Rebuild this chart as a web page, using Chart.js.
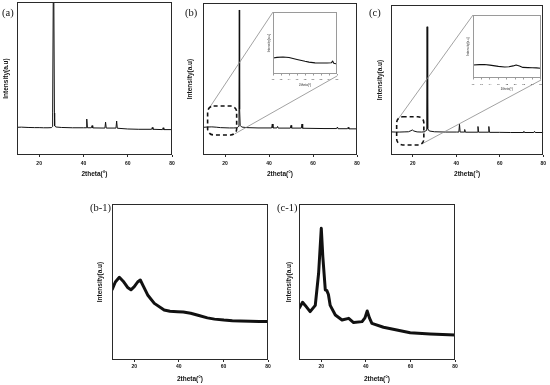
<!DOCTYPE html>
<html>
<head>
<meta charset="utf-8">
<script src="https://cdn.jsdelivr.net/npm/chart.js@4"></script>
<style>
  body { margin: 0; width: 550px; height: 385px; position: relative; background: #fff; overflow: hidden; }
  canvas { position: absolute; }
  .lbl { position: absolute; font-family: "Liberation Serif", "Times New Roman", serif; font-size: 10.5px; line-height: 11px; color: #111; }
</style>
</head>
<body>
<script>
// #region data
const xTitle = '2theta(°)';
const yTitle = 'Intensity(a.u)';
const xTicks = [20, 40, 60, 80];
const insetTicks = [10, 12, 14, 16, 18, 20, 22, 24, 26];

// (a)
const aX = [10, 12, 15, 18, 20, 22, 24, 25.6, 26.0, 26.1, 26.5, 26.9, 27.0, 27.6, 30, 35, 40, 41.2, 41.5, 41.8, 43.6, 43.9, 44.2, 49.7, 50, 50.3, 54.7, 55, 55.3, 60, 65, 70.8, 71.1, 71.4, 75.7, 76, 76.3, 80];
const aY = [18.1, 18.2, 18.0, 17.9, 17.9, 17.8, 17.8, 17.9, 18.6, 27.5, 140, 27.5, 19.0, 18.3, 18.0, 17.8, 17.8, 17.8, 23.5, 17.8, 17.8, 19.2, 17.7, 17.6, 21.5, 17.6, 17.6, 22.2, 17.5, 17.0, 16.8, 16.8, 18.0, 16.8, 16.6, 17.8, 16.6, 16.6];

// (b)
const bX = [10, 12, 14, 16, 18, 20, 22, 24, 25.6, 26.1, 26.35, 26.5, 26.65, 26.9, 27.6, 30, 35, 40, 41.2, 41.5, 41.8, 43.6, 43.9, 44.2, 49.7, 50, 50.3, 54.7, 55, 55.3, 60, 65, 70.8, 71.1, 71.4, 75.7, 76, 76.3, 80];
const bY = [18.2, 18.4, 18.5, 18.3, 18.0, 17.9, 17.8, 17.8, 17.9, 18.8, 30, 95.4, 30, 19.5, 18.4, 18.0, 17.8, 17.8, 17.8, 20.4, 17.8, 17.8, 18.8, 17.7, 17.7, 19.5, 17.7, 17.7, 20.4, 17.6, 17.5, 17.4, 17.4, 18.4, 17.3, 17.3, 18.2, 17.2, 17.2];

// (c)
const cX = [10, 12, 14, 16, 18, 19.2, 19.8, 20.5, 22, 24, 25.6, 26.1, 26.45, 26.6, 26.75, 27.0, 27.6, 30, 35, 40, 41.2, 41.5, 41.8, 43.6, 43.9, 44.2, 49.7, 50, 50.3, 54.7, 55, 55.3, 60, 65, 70.8, 71.1, 71.4, 75.7, 76, 76.3, 80];
const cY = [15.4, 15.3, 15.3, 15.4, 15.5, 16.2, 16.7, 16.0, 15.4, 15.3, 15.5, 16.5, 30, 85.5, 30, 17.5, 16.0, 15.5, 15.3, 15.3, 15.3, 20.5, 15.3, 15.3, 17.0, 15.2, 15.2, 19.0, 15.2, 15.2, 19.0, 15.1, 15.1, 15.0, 15.0, 15.8, 15.0, 15.0, 15.8, 15.0, 15.0];

// insets of (b) and (c)
const ibX = [10, 11, 12.5, 14, 16, 18, 19, 20.5, 22, 23.5, 24.6, 24.9, 25.2, 26];
const ibY = [25.8, 26.8, 27.4, 26.5, 23.5, 20.5, 19.2, 18.0, 17.7, 17.8, 18.2, 21, 17.2, 16];
const icX = [10, 11.5, 12.7, 14, 16, 17.5, 18.5, 19.5, 20.2, 21, 21.8, 23, 24, 25, 26];
const icY = [20.6, 21.3, 21.5, 20.5, 18.5, 17.5, 17.8, 19.2, 20.6, 19, 16.8, 16.5, 16.3, 16.0, 15.5];

// (b-1)
const b1X = [10, 11.5, 13.3, 15, 17, 18.5, 20, 21.5, 22.7, 24, 26, 29, 33.4, 36, 39.4, 42, 45.3, 49, 52.8, 56, 60.2, 64, 67.6, 72, 76, 80];
const b1Y = [44.9, 50, 53, 50.5, 46.5, 45, 47, 50, 51.3, 47.5, 41.7, 36.3, 32, 31.2, 31, 30.8, 30, 28.5, 27, 26.2, 25.6, 25.2, 25, 24.8, 24.7, 24.6];

// (c-1)
const c1X = [10, 11.6, 12.8, 15, 17.3, 18.8, 20, 20.7, 21.8, 22.5, 23.2, 24, 26.3, 29.3, 32.3, 34.5, 38.3, 39.6, 40.6, 41.6, 42.7, 47.9, 53.9, 59.9, 68.8, 80];
const c1Y = [33, 37, 35, 31, 35, 55.6, 84.4, 66, 45, 44.5, 42, 35, 28.8, 25.6, 26.7, 24, 24.6, 27, 31.4, 27, 23.5, 21, 19.2, 17.5, 16.7, 16];

const panelLabels = ['(a)', '(b)', '(c)', '(b-1)', '(c-1)'];
// #endregion data

const ink = '#111';
const sans = 'Arial, "Liberation Sans", sans-serif';

// box around the plot area
const framePlugin = {
    id: 'frame',
    afterDatasetsDraw(chart, args, o) {
        const { ctx, chartArea: a } = chart;
        ctx.save();
        ctx.strokeStyle = o.color;
        ctx.lineWidth = 1;
        ctx.strokeRect(Math.round(a.left) + 0.5, Math.round(a.top) + 0.5,
            Math.round(a.width) - 1, Math.round(a.height) - 1);
        ctx.restore();
    }
};

// dashed zoom region + lines to the inset
const zoomPlugin = {
    id: 'zoomBox',
    afterDraw(chart, args, o) {
        if (!o.region) return;
        const { ctx, scales: { x, y } } = chart;
        const l = x.getPixelForValue(o.region[0]), r = x.getPixelForValue(o.region[1]);
        const t = y.getPixelForValue(o.region[3]), b = y.getPixelForValue(o.region[2]);
        ctx.save();
        ctx.strokeStyle = '#8a8a8a';
        ctx.lineWidth = 0.8;
        ctx.beginPath();
        ctx.moveTo(l + 1, t + 3);
        ctx.lineTo(o.inset.l - o.origin.x, o.inset.t - o.origin.y);
        ctx.moveTo(r - 2, b - 1);
        ctx.lineTo(o.inset.r - o.origin.x, o.inset.b + 2 - o.origin.y);
        ctx.stroke();
        ctx.setLineDash([4, 3]);
        ctx.lineWidth = 1.6;
        ctx.strokeStyle = ink;
        ctx.beginPath();
        ctx.roundRect(l, t, r - l, b - t, 6);
        ctx.stroke();
        ctx.restore();
    }
};

function place(pos) {
    const cv = document.createElement('canvas');
    cv.width = pos.w;
    cv.height = pos.h;
    cv.style.left = pos.x + 'px';
    cv.style.top = pos.y + 'px';
    document.body.appendChild(cv);
    return cv;
}

function panel(p) {
    const half = s => s * 1.2 / 2;
    const cv = place(p.pos);
    const xh = p.pos.y + p.pos.h - p.box.b;
    const tc = p.titleColor || ink;
    return new Chart(cv, {
        type: 'line',
        data: {
            datasets: [{
                data: p.xs.map((x, i) => ({ x, y: p.ys[i] })),
                borderColor: ink,
                borderWidth: p.lw,
                borderJoinStyle: 'round',
                pointRadius: 0,
                tension: 0,
                clip: 0
            }]
        },
        options: {
            responsive: false,
            animation: false,
            events: [],
            layout: { padding: { top: p.box.t - p.pos.y, right: p.pos.x + p.pos.w - p.box.r, left: 0, bottom: 0 } },
            plugins: {
                legend: { display: false },
                tooltip: { enabled: false },
                frame: { color: p.frame },
                zoomBox: p.zoom || {}
            },
            scales: {
                x: {
                    type: 'linear',
                    min: p.xMin,
                    max: p.xMax,
                    afterFit: s => { s.height = xh; },
                    afterBuildTicks: s => { s.ticks = p.ticks.map(value => ({ value })); },
                    grid: { display: true, drawOnChartArea: false, drawTicks: true, tickLength: p.tickLen, color: p.frame, lineWidth: 1 },
                    border: { display: false },
                    ticks: {
                        autoSkip: false, maxRotation: 0, color: tc,
                        font: { family: sans, weight: 'bold', size: p.tickSize },
                        padding: p.tickY - p.box.b - p.tickLen - half(p.tickSize)
                    },
                    title: {
                        display: true, text: xTitle, color: tc,
                        font: { family: sans, weight: 'bold', size: p.titleSize },
                        padding: { top: 0, bottom: p.pos.y + p.pos.h - p.xTitleY - half(p.titleSize) }
                    }
                },
                y: {
                    min: 0,
                    max: 100,
                    afterFit: s => { s.width = p.box.l - p.pos.x; },
                    ticks: { display: false },
                    grid: { display: false },
                    border: { display: false },
                    title: {
                        display: true, text: yTitle, color: tc,
                        font: { family: sans, weight: 'bold', size: p.titleSize },
                        padding: { top: p.yTitleX - p.pos.x - half(p.titleSize), bottom: 0 }
                    }
                }
            }
        },
        plugins: [framePlugin, zoomPlugin]
    });
}

const main = { xMin: 10, xMax: 80, ticks: xTicks, lw: 1, frame: '#2a2a2a', tickLen: 2, tickSize: 5, titleSize: 6.5 };
const small = { xMin: 10, xMax: 26, ticks: insetTicks, lw: 1.1, frame: '#9a9a9a', tickLen: 1.5, tickSize: 2.5, titleSize: 3, titleColor: '#666' };

const insetB = { l: 273, t: 12, r: 337, b: 74 };
const insetC = { l: 473, t: 15, r: 541, b: 78 };

panel({ ...main, xs: aX, ys: aY, pos: { x: 0, y: 0, w: 185, h: 180 }, box: { l: 17, t: 2, r: 172, b: 155 }, yTitleX: 6.5, xTitleY: 174, tickY: 164 });
panel({ ...main, xs: bX, ys: bY, pos: { x: 185, y: 0, w: 180, h: 180 }, box: { l: 203, t: 3, r: 357, b: 155 }, yTitleX: 190.5, xTitleY: 174, tickY: 164,
    zoom: { region: [12.1, 25.3, 13.2, 32.2], inset: insetB, origin: { x: 185, y: 0 } } });
panel({ ...main, xs: cX, ys: cY, pos: { x: 370, y: 0, w: 180, h: 180 }, box: { l: 391, t: 5, r: 545, b: 155 }, yTitleX: 380.5, xTitleY: 174, tickY: 164,
    zoom: { region: [12.6, 25.1, 6.7, 25.5], inset: insetC, origin: { x: 370, y: 0 } } });
panel({ ...main, lw: 3, xs: b1X, ys: b1Y, pos: { x: 90, y: 195, w: 185, h: 190 }, box: { l: 112, t: 204, r: 268, b: 360 }, yTitleX: 100.5, xTitleY: 379, tickY: 367 });
panel({ ...main, lw: 3, xs: c1X, ys: c1Y, pos: { x: 280, y: 195, w: 185, h: 190 }, box: { l: 299, t: 204, r: 455, b: 360 }, yTitleX: 289.5, xTitleY: 379, tickY: 367 });

// insets go on top
panel({ ...small, xs: ibX, ys: ibY, pos: { x: 263, y: 8, w: 80, h: 82 }, box: insetB, yTitleX: 269.5, xTitleY: 85, tickY: 79 });
panel({ ...small, xs: icX, ys: icY, pos: { x: 463, y: 10, w: 82, h: 84 }, box: insetC, yTitleX: 468, xTitleY: 89.3, tickY: 84 });

// panel letters
const labelPos = [[2, 7], [185, 7], [369, 7], [90, 202], [277, 202]];
panelLabels.forEach((t, i) => {
    const d = document.createElement('div');
    d.className = 'lbl';
    d.textContent = t;
    d.style.left = labelPos[i][0] + 'px';
    d.style.top = labelPos[i][1] + 'px';
    document.body.appendChild(d);
});
</script>
</body>
</html>
